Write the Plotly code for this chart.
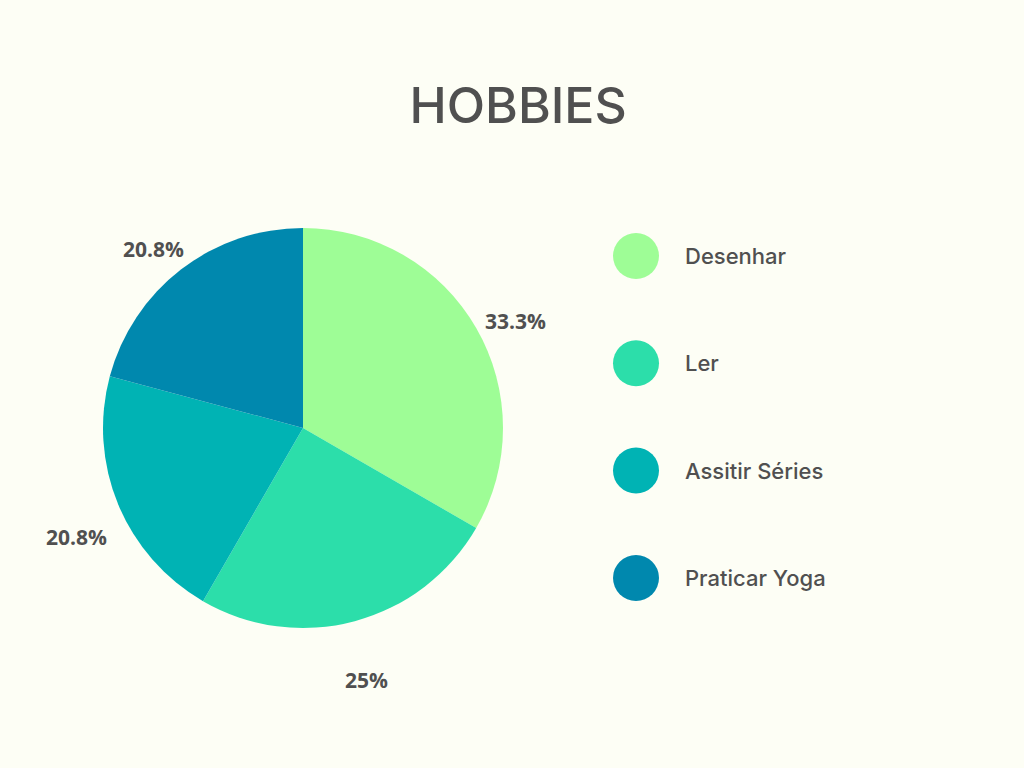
import math
import plotly.graph_objects as go

labels = ["Desenhar", "Ler", "Assitir Séries", "Praticar Yoga"]
values = [8, 6, 5, 5]
colors = ["#9EFD96", "#2CDEAA", "#00B3B4", "#0088AE"]
title_text = "HOBBIES"

W, H = 1024, 768
BG = "#FDFEF5"
TXT = "#505050"

# pie geometry (pixels)
CX, CY, R = 303, 428, 200
LABEL_R = 245
LABEL_DY = 15

fig = go.Figure()

fig.add_trace(go.Pie(
    labels=labels, values=values, sort=False, direction="clockwise", rotation=0,
    marker=dict(colors=colors, line=dict(width=0)),
    textinfo="none",
    domain=dict(x=[(CX - R) / W, (CX + R) / W], y=[(H - CY - R) / H, (H - CY + R) / H]),
    showlegend=False, hoverinfo="label+percent",
))

# percentage labels placed radially at the middle of each slice
total = sum(values)
cum = 0
annotations = []
for v in values:
    mid = (cum + v / 2) / total * 2 * math.pi
    cum += v
    pct = v / total * 100
    txt = f"{pct:.1f}".rstrip("0").rstrip(".") + "%"
    annotations.append(dict(
        x=CX + LABEL_R * math.sin(mid), y=CY + LABEL_DY - LABEL_R * math.cos(mid),
        xref="x", yref="y", text=txt, showarrow=False,
        xanchor="center", yanchor="middle",
        font=dict(family="Open Sans", size=21, color=TXT, weight="bold"),
    ))

# custom legend: big circles + labels
leg_x = 636
leg_y = [256 + i * 107.3 for i in range(len(labels))]
fig.add_trace(go.Scatter(
    x=[leg_x] * len(labels), y=leg_y, mode="markers",
    marker=dict(size=46, color=colors, line=dict(width=0)),
    showlegend=False, hoverinfo="skip", cliponaxis=False,
))
for l, yy in zip(labels, leg_y):
    annotations.append(dict(
        x=683, y=yy, xref="x", yref="y", text=l, showarrow=False,
        xanchor="left", yanchor="middle",
        font=dict(family="Inter", size=22, color=TXT, weight=500),
    ))

fig.update_layout(
    width=W, height=H,
    margin=dict(l=0, r=0, t=0, b=0),
    paper_bgcolor=BG, plot_bgcolor=BG,
    title=dict(text=title_text, x=0.506, xanchor="center", y=1 - 105 / H, yanchor="middle",
               font=dict(family="Inter", size=50, color=TXT, weight=500)),
    xaxis=dict(visible=False, range=[0, W], domain=[0, 1], fixedrange=True),
    yaxis=dict(visible=False, range=[H, 0], domain=[0, 1], fixedrange=True),
    annotations=annotations,
)

fig.write_html("out.html", config={"displayModeBar": False})
